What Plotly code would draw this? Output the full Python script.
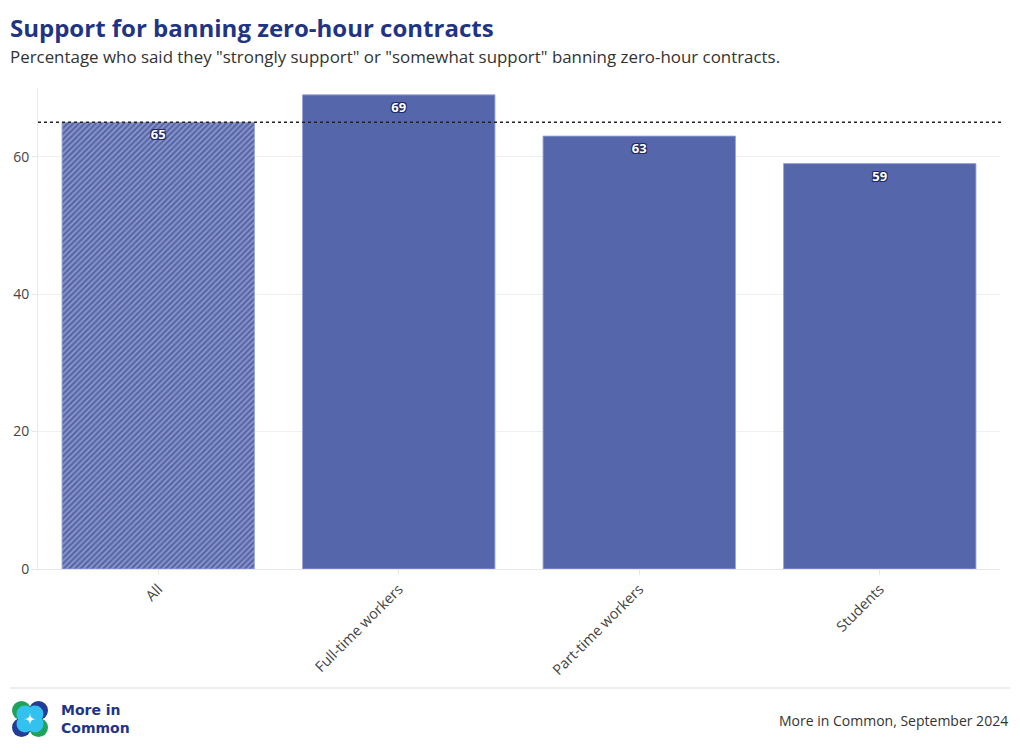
import plotly.graph_objects as go

categories = ["All", "Full-time workers", "Part-time workers", "Students"]
values = [65, 69, 63, 59]
reference_value = 65
y_ticks = [0, 20, 40, 60]

OFF = 8  # page body margin
W, H = 1004, 737
# plot area in page pixels: x 38-1000, y 88-569
ML, MR, MT, MB = 38 - OFF, W - (1000 - OFF), 88 - OFF, H - (569 - OFF)
PW, PH = W - ML - MR, H - MT - MB

def px_x(px):
    return (px - OFF - ML) / PW

def px_y(py):
    return (H - MB - (py - OFF)) / PH

BAR = "#5666AA"
NAVY = "#1F3485"
FONT = "'Open Sans', 'Noto Sans', sans-serif"

shadow = "1px 1px 0 #1E2A66, -1px -1px 0 #1E2A66, 1px -1px 0 #1E2A66, -1px 1px 0 #1E2A66"

fig = go.Figure()
fig.add_trace(go.Bar(
    x=categories,
    y=values,
    text=[str(v) for v in values],
    textposition="inside",
    insidetextanchor="end",
    textangle=0,
    textfont=dict(family=FONT, size=13, color="white", weight="bold", shadow=shadow),
    marker=dict(
        color=BAR,
        line=dict(color="rgba(150,163,215,0.9)", width=1),
        pattern=dict(
            shape=["/", "", "", ""],
            fgcolor="#C9CFEA",
            size=4,
            solidity=0.4,
            fillmode="overlay",
        ),
    ),
    hoverinfo="skip",
    showlegend=False,
))

shapes = [
    dict(type="line", xref="paper", yref="y", x0=0, x1=px_x(1003),
         y0=reference_value, y1=reference_value,
         line=dict(color="#222222", width=1.5, dash="dot")),
    dict(type="line", xref="paper", yref="paper", x0=px_x(10), x1=px_x(1010),
         y0=px_y(688), y1=px_y(688), line=dict(color="#DDDDDD", width=1)),
]

# logo: four circles
cx, cy, off, r = 30, 719, 8.5, 9.5
logo_outer = [(-1, -1, "#1FA35B"), (1, -1, "#233C95"), (-1, 1, "#233C95"), (1, 1, "#1FA35B")]
for dx, dy, col in logo_outer:
    shapes.append(dict(type="circle", xref="paper", yref="paper",
                       xsizemode="pixel", ysizemode="pixel",
                       xanchor=px_x(cx + dx * off), yanchor=px_y(cy + dy * off),
                       x0=-r, x1=r, y0=-r, y1=r,
                       fillcolor=col, line=dict(width=0)))
for dx, dy, col in logo_outer:
    shapes.append(dict(type="circle", xref="paper", yref="paper",
                       xsizemode="pixel", ysizemode="pixel",
                       xanchor=px_x(cx + dx * (off - 3.5)), yanchor=px_y(cy + dy * (off - 3.5)),
                       x0=-r + 1, x1=r - 1, y0=-r + 1, y1=r - 1,
                       fillcolor="#33C2EE", line=dict(width=0)))
s = 6
shapes.append(dict(type="path", xref="paper", yref="paper",
                   path=(f"M {px_x(cx)},{px_y(cy - s)} Q {px_x(cx)},{px_y(cy)} {px_x(cx + s)},{px_y(cy)} "
                         f"Q {px_x(cx)},{px_y(cy)} {px_x(cx)},{px_y(cy + s)} "
                         f"Q {px_x(cx)},{px_y(cy)} {px_x(cx - s)},{px_y(cy)} "
                         f"Q {px_x(cx)},{px_y(cy)} {px_x(cx)},{px_y(cy - s)} Z"),
                   fillcolor="white", line=dict(width=0)))

annotations = [
    dict(text="<b>Support for banning zero-hour contracts</b>", xref="paper", yref="paper",
         x=px_x(8), y=px_y(8.5), xanchor="left", yanchor="top", showarrow=False,
         font=dict(family=FONT, size=24, color=NAVY)),
    dict(text='Percentage who said they "strongly support" or "somewhat support" banning zero-hour contracts.',
         xref="paper", yref="paper", x=px_x(8), y=px_y(56), xanchor="left", yanchor="middle",
         showarrow=False, font=dict(family=FONT, size=16.9, color="#333333")),
    dict(text="<b>More in<br>Common</b>", xref="paper", yref="paper", x=px_x(59), y=px_y(719),
         xanchor="left", yanchor="middle", align="left", showarrow=False,
         font=dict(family="'DejaVu Sans', sans-serif", size=14, color=NAVY)),
    dict(text="More in Common, September 2024", xref="paper", yref="paper", x=px_x(1010), y=px_y(720),
         xanchor="right", yanchor="middle", showarrow=False,
         font=dict(family=FONT, size=14, color="#333333")),
]

fig.update_layout(
    width=W, height=H,
    margin=dict(l=ML, r=MR, t=MT, b=MB, autoexpand=False),
    paper_bgcolor="white", plot_bgcolor="white",
    bargap=0.2,
    shapes=shapes,
    annotations=annotations,
    font=dict(family=FONT, size=14, color="#444444"),
    xaxis=dict(
        tickangle=-45, showline=True, linecolor="#E6E6E6", linewidth=1,
        ticks="outside", ticklen=5, tickcolor="#E6E6E6",
        tickfont=dict(family=FONT, size=14.5, color="#444444"),
        showgrid=False, automargin=False,
    ),
    yaxis=dict(
        range=[0, 70], tickvals=y_ticks, showgrid=True, gridcolor="#EFEFEF", gridwidth=1,
        showline=True, linecolor="#EAEAEA", linewidth=1,
        ticks="outside", ticklen=5, tickcolor="#E6E6E6",
        tickfont=dict(family=FONT, size=14, color="#444444"),
        zeroline=False, automargin=False,
    ),
)

fig.write_html("out.html")
